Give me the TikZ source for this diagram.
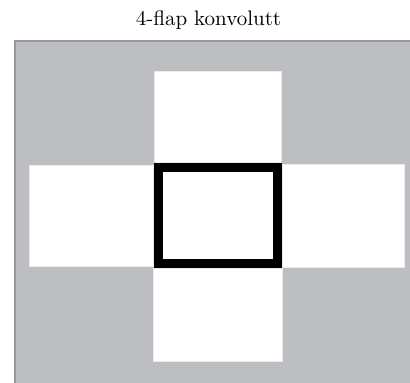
\documentclass[tikz,border=0pt]{standalone}
\usepackage{tikz}
\usetikzlibrary{positioning}
\definecolor{paper}{RGB}{189,190,193}
\definecolor{paperedge}{RGB}{150,152,155}

\begin{document}
\begin{tikzpicture}[
  x=0.5pt, y=-0.5pt,
  flap/.style={fill=white, draw=white!92!black, line width=0.3pt, inner sep=0pt},
  vindu/.style={draw=black, line width=4.5pt, fill=white, inner sep=0pt, minimum width=59.5pt, minimum height=48pt},
  tittel/.style={font=\fontsize{10.5}{12}\selectfont}
]
  \useasboundingbox (0,0) rectangle (410,383);
  % bakgrunn
  \fill[paper] (15,41) rectangle (410,383);
  \draw[paperedge, line width=0.8pt] (15,383) -- (15,41) -- (410,41);

  \node[tittel] (title) at (208.5,20) {4-flap konvolutt};

  \node[vindu] (window) at (218,215.5) {};
  \node[flap, above=0pt of window, minimum width=63.5pt, minimum height=45.5pt] (topflap) {};
  \node[flap, left=0pt of window, minimum width=62pt, minimum height=50.5pt] (leftflap) {};
  \node[flap, right=0pt of window, minimum width=61pt, minimum height=51.5pt] (rightflap) {};
  \node[flap, below=0pt of window, minimum width=64.5pt, minimum height=46.5pt] (bottomflap) {};
\end{tikzpicture}
\end{document}
